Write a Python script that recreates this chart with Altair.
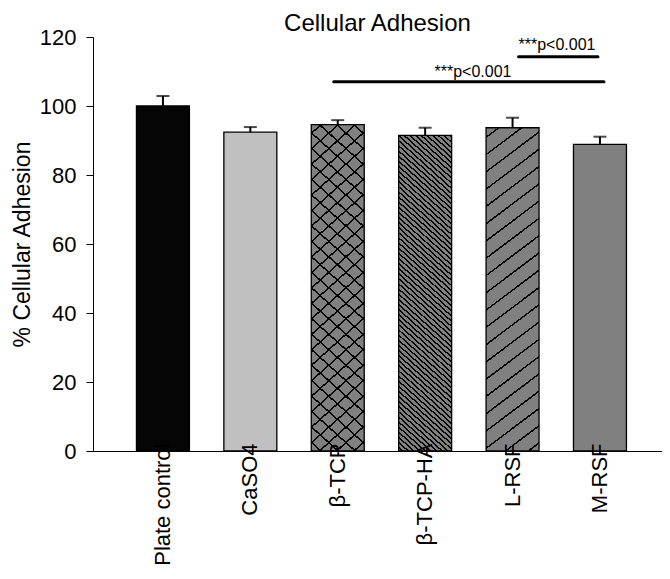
import math
import altair as alt
import pandas as pd

# ---------------- data ----------------
categories = ["Plate control", "CaSO4", "β-TCP", "β-TCP-HA", "L-RSF", "M-RSF"]
means = [100.0, 92.4, 94.6, 91.5, 93.7, 88.9]
errors = [2.9, 1.5, 1.3, 2.2, 2.9, 2.2]

sig_start = ["β-TCP", "L-RSF"]
sig_end = ["M-RSF", "M-RSF"]
sig_line_y = [107.0, 114.3]
sig_text_y = [108.4, 116.2]
sig_text = ["***p<0.001", "***p<0.001"]

y_ticks = [0, 20, 40, 60, 80, 100, 120]

# ---------------- layout / style ----------------
W, H = 569, 414
FONT = "Liberation Sans"
P_IN, P_OUT, ALIGN = 0.394, 0.452, 0.55
BAND = W / (len(categories) - P_IN + 2 * P_OUT) * (1 - P_IN)
GRAY = "#808080"
CLEAR = "rgba(0,0,0,0)"


def hatch(value, direction, theta_deg, period, lw, base, line="#000000"):
    """Linear-gradient stripes imitating a hatch pattern inside one bar."""
    w = BAND
    h = value * H / 120.0
    s, c = math.sin(math.radians(theta_deg)), math.cos(math.radians(theta_deg))
    L = s * w + c * h
    lam = L / (w * w * s * s + h * h * c * c)
    a, b = lam * w * s, lam * h * c
    if direction == "/":
        x1, y1, x2, y2 = 0, 0, a, b
    else:
        x1, y1, x2, y2 = 0, 1, a, 1 - b
    stops = [{"offset": 0, "color": base}]
    pos = period * 0.5
    while pos < L:
        o1 = round(pos / L, 5)
        o2 = round(min((pos + lw) / L, 1.0), 5)
        stops += [{"offset": o1, "color": base}, {"offset": o1, "color": line},
                  {"offset": o2, "color": line}, {"offset": o2, "color": base}]
        pos += period
    stops.append({"offset": 1, "color": base})
    return {"gradient": "linear", "x1": x1, "y1": y1, "x2": x2, "y2": y2, "stops": stops}


val = dict(zip(categories, means))
fills = {
    "Plate control": [dict(fill="#050505")],
    "CaSO4": [dict(fill="#c0c0c0")],
    "β-TCP": [dict(fill=hatch(val["β-TCP"], "/", 42, 11.5, 1.5, GRAY)),
              dict(fill=hatch(val["β-TCP"], "\\", 42, 11.5, 1.5, CLEAR), strokeOpacity=0)],
    "β-TCP-HA": [dict(fill=hatch(val["β-TCP-HA"], "\\", 42, 3.8, 1.4, GRAY))],
    "L-RSF": [dict(fill=hatch(val["L-RSF"], "/", 37, 13.8, 1.5, GRAY))],
    "M-RSF": [dict(fill=GRAY)],
}

df = pd.DataFrame({"group": categories, "mean": means, "err": errors})
df["upper"] = df["mean"] + df["err"]

x_scale = alt.Scale(domain=categories, paddingInner=P_IN, paddingOuter=P_OUT, align=ALIGN)
y_scale = alt.Scale(domain=[0, 120], nice=False)

x_axis = alt.Axis(labelAngle=-90, labelFontSize=22, labelPadding=-8, ticks=False,
                  tickSize=0, domainColor="black", domainWidth=1, labelColor="black",
                  zindex=1)
y_axis = alt.Axis(values=y_ticks, tickSize=7, labelPadding=10, labelFontSize=22,
                  titleFontSize=23, titleFontWeight="normal", titleX=-59, titleY=H / 2,
                  domainColor="black", tickColor="black", labelColor="black",
                  titleColor="black")
Y_TITLE = "% Cellular Adhesion"


def X(field):
    return alt.X(f"{field}:N", scale=x_scale, sort=categories, axis=x_axis, title=None)


def Y(field):
    return alt.Y(f"{field}:Q", scale=y_scale, axis=y_axis, title=Y_TITLE)


base = alt.Chart(df)
layers = []
for cat in categories:
    for k, style in enumerate(fills[cat]):
        props = dict(stroke="black", strokeWidth=1.3)
        props.update(style)
        layers.append(
            base.transform_filter(alt.datum.group == cat)
            .mark_bar(**props)
            .encode(x=X("group"), y=Y("mean"))
        )

err_rule = base.mark_rule(color="black", strokeWidth=2).encode(
    x=X("group"), y=Y("mean"), y2="upper:Q")
err_cap = base.mark_tick(color="black", size=13, thickness=2).encode(
    x=X("group"), y=Y("upper"))
layers += [err_rule, err_cap]

sig_df = pd.DataFrame({"start": sig_start, "end": sig_end, "ly": sig_line_y,
                       "ty": sig_text_y, "label": sig_text})
line_offsets = [(-4, 4), (6, -2)]
text_dx = [-127, -43]
for i in range(len(sig_df)):
    sub = alt.Chart(sig_df.iloc[[i]])
    layers.append(
        sub.mark_rule(color="black", strokeWidth=3, strokeCap="round",
                      xOffset=line_offsets[i][0], x2Offset=line_offsets[i][1])
        .encode(x=X("start"), x2="end:N", y=Y("ly"))
    )
    layers.append(
        sub.mark_text(font=FONT, fontSize=16, color="black", baseline="alphabetic",
                      dx=text_dx[i])
        .encode(x=X("end"), y=Y("ty"), text="label:N")
    )

chart = (
    alt.layer(*layers)
    .properties(
        width=W, height=H,
        title=alt.TitleParams("Cellular Adhesion", fontSize=24, font=FONT,
                              fontWeight="normal", color="black", anchor="middle",
                              frame="group", baseline="alphabetic", offset=-29),
        autosize=alt.AutoSizeParams(type="none"),
        padding={"left": 85, "top": 29, "right": 0, "bottom": 120},
    )
    .configure_axis(labelFont=FONT, titleFont=FONT, grid=False)
    .configure_view(stroke=None)
)

chart.save("out.html", embed_options={"renderer": "svg", "actions": False})
